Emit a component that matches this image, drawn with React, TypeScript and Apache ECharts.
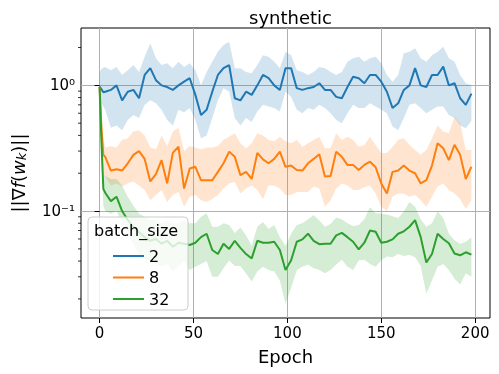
import React, { useEffect, useRef } from "react";
import * as echarts from "echarts";

const epochs = [0, 1, 2, 3, 6, 9, 12, 15, 18, 21, 24, 27, 30, 33, 36, 39, 42, 45, 48, 51, 54, 57, 60, 63, 66, 69, 72, 75, 78, 81, 84, 87, 90, 93, 96, 99, 102, 105, 108, 111, 114, 117, 120, 123, 126, 129, 132, 135, 138, 141, 144, 147, 150, 153, 156, 159, 162, 165, 168, 171, 174, 177, 180, 183, 186, 189, 192, 195, 198];

const blueMean = [0.98, 0.93, 0.88, 0.89, 0.92, 1.0, 0.76, 0.89, 0.92, 0.79, 1.21, 1.37, 1.10, 1.0, 0.97, 0.92, 1.0, 1.07, 1.14, 0.84, 0.58, 0.64, 0.89, 1.21, 1.37, 1.45, 0.79, 0.76, 0.89, 0.84, 1.0, 1.21, 1.14, 1.0, 0.92, 1.37, 1.37, 0.95, 0.92, 0.95, 0.97, 1.04, 0.92, 0.92, 0.81, 0.79, 0.97, 1.17, 1.14, 1.04, 1.21, 1.21, 1.07, 0.89, 0.66, 0.72, 0.92, 1.0, 1.37, 1.0, 0.97, 1.21, 1.21, 1.41, 1.0, 1.04, 0.79, 0.70, 0.86];
const blueHi = [1.28, 1.35, 1.38, 1.40, 1.32, 1.40, 1.21, 1.32, 1.45, 1.28, 1.69, 2.16, 1.64, 1.45, 1.50, 1.37, 1.54, 1.40, 1.50, 1.32, 1.0, 1.28, 1.54, 1.85, 2.09, 2.22, 1.37, 1.37, 1.28, 1.25, 1.45, 1.74, 1.69, 1.54, 1.37, 1.85, 1.74, 1.32, 1.28, 1.21, 1.28, 1.40, 1.37, 1.28, 1.21, 1.28, 1.54, 1.64, 1.69, 1.54, 1.64, 1.69, 1.50, 1.21, 1.07, 1.21, 1.80, 1.85, 1.97, 1.64, 1.54, 1.74, 1.85, 2.03, 1.64, 1.54, 1.21, 1.04, 1.0];
const blueLo = [0.76, 0.72, 0.68, 0.64, 0.46, 0.48, 0.44, 0.53, 0.58, 0.55, 0.70, 0.76, 0.72, 0.64, 0.53, 0.48, 0.64, 0.61, 0.66, 0.53, 0.38, 0.40, 0.55, 0.76, 0.95, 0.89, 0.55, 0.48, 0.55, 0.51, 0.62, 0.70, 0.68, 0.66, 0.62, 0.89, 0.81, 0.64, 0.60, 0.66, 0.64, 0.70, 0.66, 0.60, 0.53, 0.50, 0.60, 0.70, 0.66, 0.66, 0.72, 0.68, 0.64, 0.60, 0.47, 0.44, 0.55, 0.70, 0.72, 0.66, 0.60, 0.64, 0.68, 0.68, 0.58, 0.55, 0.48, 0.455, 0.52];

const orangeMean = [0.97, 0.45, 0.28, 0.27, 0.21, 0.215, 0.21, 0.24, 0.28, 0.30, 0.26, 0.172, 0.197, 0.254, 0.166, 0.29, 0.325, 0.151, 0.218, 0.225, 0.176, 0.176, 0.176, 0.205, 0.24, 0.297, 0.27, 0.193, 0.205, 0.18, 0.29, 0.258, 0.24, 0.26, 0.297, 0.225, 0.23, 0.212, 0.21, 0.24, 0.26, 0.283, 0.188, 0.19, 0.297, 0.27, 0.233, 0.233, 0.212, 0.233, 0.247, 0.223, 0.166, 0.138, 0.205, 0.21, 0.23, 0.21, 0.20, 0.166, 0.176, 0.23, 0.346, 0.316, 0.254, 0.337, 0.28, 0.18, 0.225];
const orangeHi = [1.05, 0.6, 0.4, 0.32, 0.33, 0.32, 0.37, 0.38, 0.43, 0.44, 0.40, 0.32, 0.31, 0.40, 0.33, 0.43, 0.46, 0.30, 0.33, 0.32, 0.31, 0.32, 0.32, 0.33, 0.37, 0.39, 0.415, 0.346, 0.316, 0.346, 0.415, 0.40, 0.367, 0.36, 0.39, 0.36, 0.346, 0.367, 0.325, 0.346, 0.367, 0.39, 0.316, 0.316, 0.415, 0.367, 0.39, 0.367, 0.325, 0.335, 0.39, 0.335, 0.29, 0.29, 0.325, 0.37, 0.38, 0.335, 0.306, 0.28, 0.306, 0.38, 0.48, 0.43, 0.415, 0.56, 0.50, 0.306, 0.306];
const orangeLo = [0.92, 0.33, 0.2, 0.188, 0.16, 0.166, 0.157, 0.166, 0.172, 0.16, 0.147, 0.122, 0.134, 0.147, 0.118, 0.134, 0.142, 0.108, 0.13, 0.134, 0.122, 0.118, 0.125, 0.134, 0.151, 0.166, 0.17, 0.138, 0.151, 0.16, 0.147, 0.125, 0.16, 0.16, 0.151, 0.134, 0.134, 0.142, 0.142, 0.142, 0.157, 0.151, 0.108, 0.122, 0.151, 0.166, 0.16, 0.147, 0.147, 0.155, 0.16, 0.138, 0.108, 0.1, 0.13, 0.138, 0.137, 0.13, 0.134, 0.122, 0.108, 0.13, 0.157, 0.166, 0.147, 0.138, 0.125, 0.104, 0.122];

const greenMean = [0.97, 0.35, 0.15, 0.14, 0.12, 0.13, 0.10, 0.085, 0.075, 0.068, 0.062, 0.058, 0.06, 0.055, 0.058, 0.052, 0.056, 0.055, 0.0537, 0.056, 0.062, 0.066, 0.049, 0.0455, 0.055, 0.050, 0.058, 0.051, 0.0455, 0.042, 0.058, 0.056, 0.056, 0.057, 0.049, 0.034, 0.0406, 0.057, 0.0595, 0.066, 0.058, 0.0545, 0.055, 0.055, 0.064, 0.067, 0.062, 0.057, 0.0495, 0.056, 0.070, 0.0685, 0.056, 0.057, 0.0595, 0.066, 0.069, 0.075, 0.0846, 0.062, 0.039, 0.0455, 0.066, 0.06, 0.0555, 0.046, 0.0445, 0.047, 0.045];
const greenHi = [1.05, 0.5, 0.2, 0.19, 0.18, 0.18, 0.16, 0.13, 0.11, 0.095, 0.09, 0.085, 0.085, 0.08, 0.085, 0.08, 0.08, 0.085, 0.08, 0.08, 0.09, 0.096, 0.075, 0.075, 0.08, 0.0776, 0.067, 0.074, 0.064, 0.053, 0.075, 0.082, 0.072, 0.0776, 0.062, 0.053, 0.066, 0.0776, 0.080, 0.086, 0.093, 0.084, 0.075, 0.079, 0.089, 0.086, 0.08, 0.076, 0.0776, 0.086, 0.107, 0.096, 0.095, 0.094, 0.091, 0.088, 0.099, 0.118, 0.108, 0.086, 0.075, 0.08, 0.099, 0.088, 0.066, 0.0586, 0.055, 0.057, 0.062];
const greenLo = [0.9, 0.25, 0.11, 0.10, 0.095, 0.10, 0.08, 0.065, 0.055, 0.045, 0.042, 0.04, 0.038, 0.036, 0.038, 0.033, 0.036, 0.04, 0.034, 0.036, 0.038, 0.04, 0.03, 0.03, 0.035, 0.0405, 0.0365, 0.0365, 0.0318, 0.0275, 0.033, 0.036, 0.034, 0.033, 0.028, 0.0184, 0.0245, 0.034, 0.036, 0.0375, 0.035, 0.034, 0.032, 0.034, 0.0375, 0.041, 0.036, 0.034, 0.0405, 0.041, 0.038, 0.036, 0.0406, 0.0435, 0.043, 0.0455, 0.044, 0.045, 0.043, 0.0365, 0.022, 0.028, 0.036, 0.038, 0.034, 0.029, 0.026, 0.032, 0.030];

const seriesNames = ["2", "8", "32"];
const xTicks = [0, 50, 100, 150, 200];
const yTicks = [0.1, 1];
const yMinorTicks = [0.02, 0.03, 0.04, 0.05, 0.06, 0.07, 0.08, 0.09, 0.2, 0.3, 0.4, 0.5, 0.6, 0.7, 0.8, 0.9, 2];

const X_MIN = -9.9;
const X_MAX = 207.9;
const Y_MIN = 0.0141;
const Y_MAX = 2.86;

const FONT = "DejaVu Sans";
const COLORS = ["#1f77b4", "#ff7f0e", "#2ca02c"];

function bandSeries(name: string, lo: number[], hi: number[], color: string) {
  return {
    type: "custom",
    name,
    silent: true,
    z: 1,
    clip: true,
    data: epochs.map((e, i) => [e, lo[i], hi[i]]),
    renderItem: (params: any, api: any) => {
      if (params.dataIndexInside !== 0) return null;
      const pts: number[][] = [];
      for (let i = 0; i < epochs.length; i++) pts.push(api.coord([epochs[i], hi[i]]));
      for (let i = epochs.length - 1; i >= 0; i--) pts.push(api.coord([epochs[i], lo[i]]));
      return {
        type: "polygon",
        shape: { points: pts },
        style: { fill: color, opacity: 0.2 },
      };
    },
  };
}

function lineSeries(name: string, vals: number[], color: string) {
  return {
    type: "line",
    name,
    data: epochs.map((e, i) => [e, vals[i]]),
    showSymbol: false,
    symbol: "none",
    z: 3,
    lineStyle: { color, width: 2 },
    itemStyle: { color },
  };
}

function fmtY(v: number) {
  if (Math.abs(v - 1) < 1e-9) return "10⁰";
  if (Math.abs(v - 0.1) < 1e-9) return "10⁻¹";
  return "";
}

export default function App() {
  const ref = useRef<HTMLDivElement>(null);
  useEffect(() => {
    if (!ref.current) return;
    const chart = echarts.init(ref.current, null, { renderer: "svg" });
    const option: any = {
      animation: false,
      textStyle: { fontFamily: FONT },
      title: {
        text: "synthetic",
        left: 285.5,
        textAlign: "center",
        top: 3,
        textStyle: { fontFamily: FONT, fontSize: 18, fontWeight: "normal", color: "#000" },
      },
      grid: {
        left: 81,
        right: 9,
        top: 28,
        bottom: 56,
        show: true,
        borderColor: "#000",
        borderWidth: 1,
        backgroundColor: "transparent",
      },
      legend: {
        data: seriesNames,
        orient: "vertical",
        left: 107,
        top: 243,
        itemWidth: 31,
        itemHeight: 14,
        itemGap: 5.5,
        z: 20,
        itemStyle: { color: "rgba(0,0,0,0)", borderWidth: 0, opacity: 0 },
        textStyle: { fontFamily: FONT, fontSize: 16, color: "#000" },
      },
      graphic: [
        {
          type: "rect",
          z: 10,
          shape: { x: 88, y: 217, width: 100, height: 93, r: 4 },
          style: { fill: "rgba(255,255,255,0.8)", stroke: "#cccccc", lineWidth: 1 },
        },
        {
          type: "text",
          z: 21,
          x: 94,
          y: 222,
          style: { text: "batch_size", font: `16px "${FONT}"`, fill: "#000" },
        },
      ],
      xAxis: {
        type: "value",
        min: X_MIN,
        max: X_MAX,
        axisLine: { show: false },
        axisTick: { show: true, customValues: xTicks, length: 5, lineStyle: { color: "#000" } },
        axisLabel: { customValues: xTicks, fontSize: 15, color: "#000", fontFamily: FONT, margin: 7 },
        splitLine: { show: true, lineStyle: { color: "#b0b0b0", width: 1 } },
        name: "Epoch",
        nameLocation: "middle",
        nameGap: 29,
        nameTextStyle: { fontSize: 18, color: "#000", fontFamily: FONT },
      },
      yAxis: {
        type: "log",
        logBase: 10,
        min: Y_MIN,
        max: Y_MAX,
        axisLine: { show: false },
        axisTick: { show: true, customValues: yTicks, length: 5, lineStyle: { color: "#000" } },
        axisLabel: { customValues: yTicks, formatter: fmtY, fontSize: 15, color: "#000", fontFamily: FONT, margin: 6 },
        splitLine: { show: true, lineStyle: { color: "#b0b0b0", width: 1 } },
        minorTick: { show: false },
        name: "||∇{i|f}({i|w}{sub|k})||",
        nameLocation: "middle",
        nameRotate: 90,
        nameGap: 53,
        nameTextStyle: {
          fontSize: 18,
          color: "#000",
          fontFamily: FONT,
          rich: {
            i: { fontSize: 18, fontStyle: "italic", fontFamily: FONT, color: "#000" },
            sub: { fontSize: 13, fontStyle: "italic", fontFamily: FONT, color: "#000", verticalAlign: "bottom", padding: [7, 0, 0, 0] },
          },
        },
      },
      series: [
        bandSeries("band2", blueLo, blueHi, COLORS[0]),
        bandSeries("band8", orangeLo, orangeHi, COLORS[1]),
        bandSeries("band32", greenLo, greenHi, COLORS[2]),
        lineSeries(seriesNames[0], blueMean, COLORS[0]),
        lineSeries(seriesNames[1], orangeMean, COLORS[1]),
        lineSeries(seriesNames[2], greenMean, COLORS[2]),
        {
          type: "custom",
          name: "minorTicks",
          silent: true,
          clip: false,
          z: 5,
          data: yMinorTicks.map((v) => [X_MIN, v]),
          renderItem: (params: any, api: any) => {
            const p = api.coord([X_MIN, api.value(1)]);
            return {
              type: "line",
              shape: { x1: p[0] - 3, y1: p[1], x2: p[0], y2: p[1] },
              style: { stroke: "#000", lineWidth: 0.8 },
            };
          },
        },
      ],
    };
    chart.setOption(option);
    return () => chart.dispose();
  }, []);
  return <div ref={ref} style={{ position: "fixed", left: 0, top: 0, width: 499, height: 374 }} />;
}
